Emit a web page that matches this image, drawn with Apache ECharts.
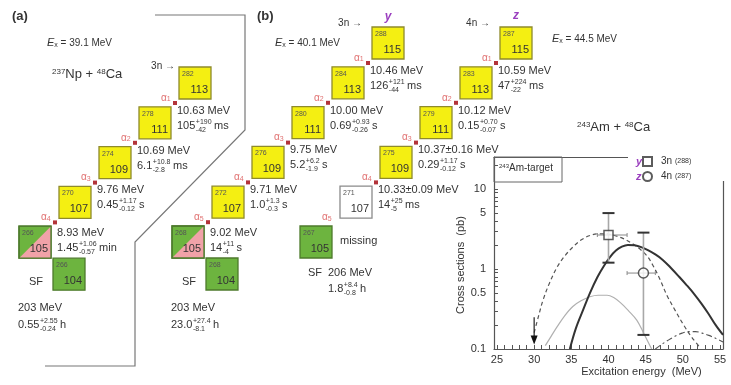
<!DOCTYPE html>
<html>
<head>
<meta charset="utf-8">
<script src="https://cdn.jsdelivr.net/npm/echarts@6/dist/echarts.min.js"></script>
<style>
  html, body { margin: 0; padding: 0; background: #fff; }
  #chart { width: 731px; height: 385px; }
</style>
</head>
<body>
<div id="chart"></div>
<script>
var FONT = '"Liberation Sans", Arial, sans-serif';

// (a) 237Np + 48Ca decay chain
var chainAMass = [282, 278, 274, 270, 266];
var chainAZ = [113, 111, 109, 107, 105];
var chainAEnergy = ['10.63 MeV', '10.69 MeV', '9.76 MeV', '8.93 MeV'];
var chainALife = [['105', '+190', '-42', 'ms'], ['6.1', '+10.8', '-2.8', 'ms'], ['0.45', '+1.17', '-0.12', 's'], ['1.45', '+1.06', '-0.57', 'min']];
var chainASf = [266, 104, '203 MeV'];
var chainASfLife = ['0.55', '+2.55', '-0.24', 'h'];

// (b) chain y (3n, 288 115)
var chainYMass = [288, 284, 280, 276, 272, 268];
var chainYZ = [115, 113, 111, 109, 107, 105];
var chainYEnergy = ['10.46 MeV', '10.00 MeV', '9.75 MeV', '9.71 MeV', '9.02 MeV'];
var chainYLife = [['126', '+121', '-44', 'ms'], ['0.69', '+0.93', '-0.26', 's'], ['5.2', '+6.2', '-1.9', 's'], ['1.0', '+1.3', '-0.3', 's'], ['14', '+11', '-4', 's']];
var chainYSf = [268, 104, '203 MeV'];
var chainYSfLife = ['23.0', '+27.4', '-8.1', 'h'];

// (b) chain z (4n, 287 115)
var chainZMass = [287, 283, 279, 275, 271, 267];
var chainZZ = [115, 113, 111, 109, 107, 105];
var chainZEnergy = ['10.59 MeV', '10.12 MeV', '10.37\u00b10.16 MeV', '10.33\u00b10.09 MeV'];
var chainZLife = [['47', '+224', '-22', 'ms'], ['0.15', '+0.70', '-0.07', 's'], ['0.29', '+1.17', '-0.12', 's'], ['14', '+25', '-5', 'ms']];
var chainZSf = ['206 MeV'];
var chainZSfLife = ['1.8', '+8.4', '-0.8', 'h'];

// excitation functions (MeV, pb)
var e3n = [30.0, 30.6, 31.2, 32.1, 33.1, 34.1, 35.2, 36.3, 37.4, 38.5, 39.6, 40.8, 42.0, 43.2, 44.3, 45.2, 46.0, 46.9, 47.9, 49.0, 50.1, 51.2, 52.3];
var s3n = [0.16, 0.26, 0.41, 0.68, 1.06, 1.45, 1.88, 2.3, 2.6, 2.75, 2.75, 2.62, 2.4, 2.08, 1.75, 1.45, 1.1, 0.75, 0.46, 0.3, 0.2, 0.14, 0.105];
var e4n = [34.8, 35.6, 36.6, 37.5, 38.5, 39.4, 40.2, 41.0, 41.8, 42.6, 43.5, 44.4, 45.3, 46.3, 47.3, 48.4, 49.5, 50.5, 51.5, 52.5, 53.4, 54.4, 55.4];
var s4n = [0.1, 0.18, 0.31, 0.5, 0.79, 1.1, 1.41, 1.7, 1.9, 2.0, 1.98, 1.88, 1.72, 1.52, 1.3, 1.03, 0.8, 0.63, 0.49, 0.37, 0.28, 0.2, 0.15];
var e2n = [31.5, 32.3, 33.1, 34.1, 35.2, 36.3, 37.5, 38.6, 39.8, 40.7, 41.6, 42.7, 43.8, 44.7, 45.8];
var s2n = [0.11, 0.145, 0.19, 0.26, 0.34, 0.4, 0.45, 0.47, 0.47, 0.44, 0.38, 0.3, 0.23, 0.16, 0.1];
var e5n = [46.3, 47.2, 48.1, 49.0, 49.9, 50.8, 51.7, 52.6, 53.5, 54.4, 55.4];
var s5n = [0.1, 0.115, 0.13, 0.145, 0.158, 0.165, 0.165, 0.158, 0.148, 0.136, 0.122];

var curveLabels = ['3n', '4n', '2n', '5n'];
var curveLabelE = [37.8, 48.7, 37.9, 48.7];
var curveLabelS = [3.55, 1.19, 0.345, 0.21];

// measured points: 3n (288), 4n (287)
var ptName = ['3n', '4n'];
var ptEnergy = [40.0, 44.7];
var ptSigma = [2.66, 0.89];
var ptSigmaLo = [1.2, 0.15];
var ptSigmaHi = [5.0, 2.85];
var ptEnergyLo = [38.5, 42.5];
var ptEnergyHi = [42.5, 46.3];
var thresholdE = 30;
var thresholdS = [0.25, 0.13];

var xLabels = [25, 30, 35, 40, 45, 50, 55];
var xTicks = [];
for (var t = 25; t <= 55; t++) xTicks.push(t);
var yLabels = [0.1, 0.5, 1, 5, 10];
var yTicks = [0.1, 0.2, 0.3, 0.4, 0.5, 0.6, 0.7, 0.8, 0.9, 1, 2, 3, 4, 5, 6, 7, 8, 9, 10, 20];

var lg = Math.log10;

// ---------- decay chain drawing ----------
var els = [];
var B = 32, DX = -40, DY = 39.8;
var YEL = '#f4ef12', YEL_B = '#8e8a2c', GRN = '#6db43f', GRN_B = '#4d7a2c', PNK = '#f1a2a8';
var mctx = document.createElement('canvas').getContext('2d');
function tw(s, size) { mctx.font = size + 'px ' + FONT; return mctx.measureText(s).width; }

function txt(x, y, s, size, opt) {
  opt = opt || {};
  els.push({
    type: 'text', x: x, y: y, z: 40,
    style: {
      text: String(s), fontSize: size, fontFamily: FONT,
      fontWeight: opt.bold ? 'bold' : 'normal', fontStyle: opt.italic ? 'italic' : 'normal',
      fill: opt.color || '#333', align: opt.align || 'left', textAlign: opt.align || 'left',
      verticalAlign: 'middle', textVerticalAlign: 'middle', rich: opt.rich
    }
  });
}
function life(x, y, p) {
  var w0 = tw(p[0], 11), w1 = Math.max(tw(p[1], 7), tw(p[2], 7));
  txt(x, y, p[0], 11);
  txt(x + w0 + 0.5, y - 4, p[1], 7);
  txt(x + w0 + 0.5, y + 4, p[2], 7);
  txt(x + w0 + w1 + 3, y, p[3], 11);
}
function box(x, y, mass, z, kind) {
  var fill = kind === 'y' ? YEL : kind === 'w' ? '#fff' : GRN;
  var stroke = kind === 'y' ? YEL_B : kind === 'w' ? '#8a8a8a' : GRN_B;
  els.push({ type: 'rect', z: 10, shape: { x: x, y: y, width: B, height: B }, style: { fill: fill, stroke: stroke, lineWidth: 1.3 } });
  if (kind === 's') {
    els.push({ type: 'polygon', z: 11, shape: { points: [[x + B, y], [x + B, y + B], [x, y + B]] }, style: { fill: PNK } });
    els.push({ type: 'rect', z: 12, shape: { x: x, y: y, width: B, height: B }, style: { fill: 'none', stroke: GRN_B, lineWidth: 1.3 } });
  }
  txt(x + 3, y + 7, mass, 7, { color: '#555' });
  txt(x + B - 3, y + B - 9, z, 11, { align: 'right' });
}
function alpha(x, y, n) {
  els.push({
    type: 'text', x: x, y: y, z: 40,
    style: {
      text: '{a|\u03b1}{n|' + n + '}', fontFamily: FONT, fontSize: 10, fill: '#e07070',
      rich: { a: { fontSize: 10, fontFamily: FONT, fill: '#e07070', color: '#e07070' },
              n: { fontSize: 7, fontFamily: FONT, fill: '#e07070', color: '#e07070', verticalAlign: 'bottom' } },
      verticalAlign: 'middle', textVerticalAlign: 'middle'
    }
  });
}
function chain(x0, y0, mass, zs, energy, lives, kinds, dots) {
  var pos = mass.map(function (m, i) { return [x0 + DX * i, y0 + DY * i]; });
  mass.forEach(function (m, i) { box(pos[i][0], pos[i][1], m, zs[i], kinds[i]); });
  for (var i = 1; i < mass.length; i++) {
    var up = pos[i - 1], lo = pos[i];
    var dx = up[0] - 4, dy = up[1] + B + 4;
    if (i <= dots) els.push({ type: 'rect', z: 30, shape: { x: dx - 2, y: dy - 2, width: 4, height: 4 }, style: { fill: '#b3343a' } });
    alpha(dx - 14, dy - 5, i);
    if (energy[i - 1]) {
      var off = zs[i] === 105 ? 3 : 0;
      txt(lo[0] + B + 6, lo[1] + 4 + off, energy[i - 1], 11);
      life(lo[0] + B + 6, lo[1] + 19 + off, lives[i - 1]);
    }
  }
  return pos;
}
function sfDaughter(last, sf, sfLife) {
  var bx = last[0] + 34, by = last[1] + 32;
  box(bx, by, sf[0], sf[1], 'g');
  txt(bx - 24, by + 24, 'SF', 11);
  txt(last[0] - 1, by + 50, sf[2], 11);
  life(last[0] - 1, by + 67, sfLife);
}

// panel (a)
txt(12, 16, '(a)', 13, { bold: true });
els.push({ type: 'polyline', z: 5, shape: { points: [[155, 15], [245, 15], [245, 130], [135, 242], [135, 366], [45, 366]] }, style: { fill: 'none', stroke: '#777', lineWidth: 1.2 } });
txt(47, 43, '{e|E}{x|x} = 39.1 MeV', 10, { rich: { e: { fontStyle: 'italic', fontSize: 11, fontFamily: FONT, fill: '#333' }, x: { fontSize: 7, fontFamily: FONT, fill: '#333', verticalAlign: 'bottom' } } });
txt(52, 74, '{s|237}Np + {s|48}Ca', 13, { rich: { s: { fontSize: 8, fontFamily: FONT, fill: '#333', verticalAlign: 'top' } } });
var posA = chain(179, 67, chainAMass, chainAZ, chainAEnergy, chainALife, ['y', 'y', 'y', 'y', 's'], 4);
txt(175, 66, '3n \u2192', 10, { align: 'right' });
sfDaughter(posA[4], chainASf, chainASfLife);

// panel (b)
txt(257, 16, '(b)', 13, { bold: true });
txt(275, 43, '{e|E}{x|x} = 40.1 MeV', 10, { rich: { e: { fontStyle: 'italic', fontSize: 11, fontFamily: FONT, fill: '#333' }, x: { fontSize: 7, fontFamily: FONT, fill: '#333', verticalAlign: 'bottom' } } });
var posY = chain(372, 27, chainYMass, chainYZ, chainYEnergy, chainYLife, ['y', 'y', 'y', 'y', 'y', 's'], 5);
txt(362, 23, '3n \u2192', 10, { align: 'right' });
txt(388, 17, 'y', 12, { italic: true, bold: true, color: '#9b3fbf', align: 'center' });
sfDaughter(posY[5], chainYSf, chainYSfLife);

var posZ = chain(500, 27, chainZMass, chainZZ, chainZEnergy, chainZLife, ['y', 'y', 'y', 'y', 'w', 'g'], 4);
txt(490, 23, '4n \u2192', 10, { align: 'right' });
txt(516, 16, 'z', 12, { italic: true, bold: true, color: '#9b3fbf', align: 'center' });
txt(552, 39, '{e|E}{x|x} = 44.5 MeV', 10, { rich: { e: { fontStyle: 'italic', fontSize: 11, fontFamily: FONT, fill: '#333' }, x: { fontSize: 7, fontFamily: FONT, fill: '#333', verticalAlign: 'bottom' } } });
var bz = posZ[5];
txt(bz[0] + 40, bz[1] + 15, 'missing', 11);
txt(bz[0] + 8, bz[1] + 47, 'SF', 11);
txt(bz[0] + 28, bz[1] + 47, chainZSf[0], 11);
life(bz[0] + 28, bz[1] + 63, chainZSfLife);

txt(577, 127, '{s|243}Am + {s|48}Ca', 13, { rich: { s: { fontSize: 8, fontFamily: FONT, fill: '#333', verticalAlign: 'top' } } });

// plot decorations
els.push({ type: 'rect', z: 25, shape: { x: 628, y: 148, width: 103, height: 33 }, style: { fill: '#fff' } });
txt(636, 162, 'y', 11, { italic: true, bold: true, color: '#9b3fbf' });
txt(636, 177, 'z', 11, { italic: true, bold: true, color: '#9b3fbf' });
els.push({ type: 'rect', z: 20, shape: { x: 494, y: 157, width: 68, height: 25 }, style: { fill: 'none', stroke: '#666', lineWidth: 1 } });
txt(499, 168, '{s|243}Am-target', 10, { rich: { s: { fontSize: 6, fontFamily: FONT, fill: '#333', verticalAlign: 'top' } } });

// ---------- series ----------
function curve(name, es, ss, color, width, dash) {
  return {
    type: 'line', name: name, smooth: 0.35, showSymbol: false, silent: true, z: 2,
    data: es.map(function (e, i) { return [e, lg(ss[i])]; }),
    lineStyle: { color: color, width: width, type: dash }
  };
}

var axisColor = '#555';
var option = {
  animation: false,
  backgroundColor: '#fff',
  textStyle: { fontFamily: FONT },
  grid: { left: 494, top: 157, width: 229, height: 192, outerBoundsMode: 'none' },
  legend: {
    data: ['3n', '4n'], orient: 'vertical', left: 642, top: 156, z: 30,
    itemWidth: 9, itemHeight: 9, itemGap: 4, padding: 0,
    formatter: function (n) { return n + ' {s|' + (n === '3n' ? '(288)' : '(287)') + '}'; },
    textStyle: { fontSize: 10, color: '#333', fontFamily: FONT, padding: [0, 0, 0, 4],
      rich: { s: { fontSize: 7, color: '#333', fontFamily: FONT } } }
  },
  xAxis: [{
    type: 'value', min: 24.6, max: 55.4, position: 'bottom',
    name: 'Excitation energy  (MeV)', nameLocation: 'middle', nameGap: 17,
    nameTextStyle: { fontSize: 11, color: '#333', padding: [0, 0, 0, 66] },
    axisLine: { onZero: false, lineStyle: { color: axisColor, width: 1.2 } },
    axisTick: { inside: true, length: 4, customValues: xTicks, lineStyle: { color: axisColor } },
    axisLabel: { customValues: xLabels, fontSize: 11, color: '#333', margin: 5 },
    splitLine: { show: false }
  }, {
    type: 'value', min: 24.6, max: 55.4, position: 'top',
    axisLine: { onZero: false, lineStyle: { color: axisColor, width: 1.2 } },
    axisTick: { show: false }, axisLabel: { show: false }, splitLine: { show: false }
  }],
  yAxis: [{
    type: 'value', min: -1, max: 1.4, position: 'left',
    name: 'Cross sections  (pb)', nameLocation: 'middle', nameRotate: 90, nameGap: 25,
    nameTextStyle: { fontSize: 11, color: '#333', padding: [0, 24, 0, 0] },
    axisLine: { onZero: false, lineStyle: { color: axisColor, width: 1.2 } },
    axisTick: { inside: true, length: 4, customValues: yTicks.map(lg), lineStyle: { color: axisColor } },
    axisLabel: {
      customValues: yLabels.map(lg), fontSize: 11, color: '#333', margin: 8,
      formatter: function (v) { return String(Number(Math.pow(10, v).toPrecision(2))); }
    },
    splitLine: { show: false }
  }, {
    type: 'value', min: -1, max: 1.4, position: 'right',
    axisLine: { onZero: false, lineStyle: { color: axisColor, width: 1.2 } },
    axisTick: { show: false }, axisLabel: { show: false }, splitLine: { show: false }
  }],
  series: [
    curve('calc 2n', e2n, s2n, '#b0b0b0', 1.2, 'solid'),
    curve('calc 5n', e5n, s5n, '#555', 1.1, [6, 3, 2, 3]),
    curve('calc 3n', e3n, s3n, '#555', 1.2, [4, 3]),
    curve('calc 4n', e4n, s4n, '#333', 2, 'solid'),
    {
      type: 'line', name: 'threshold', silent: true, z: 3,
      data: [{ value: [thresholdE, lg(thresholdS[0])], symbol: 'none' },
             { value: [thresholdE, lg(thresholdS[1])], symbol: 'triangle', symbolSize: [7, 9], symbolRotate: 180 }],
      lineStyle: { color: '#222', width: 1.2 }, itemStyle: { color: '#111' }
    },
    {
      type: 'custom', name: 'errors', silent: true, z: 4,
      data: ptEnergy.map(function (e, i) { return [e, lg(ptSigma[i]), lg(ptSigmaLo[i]), lg(ptSigmaHi[i]), ptEnergyLo[i], ptEnergyHi[i]]; }),
      renderItem: function (params, api) {
        var c = api.coord([api.value(0), api.value(1)]);
        var lo = api.coord([api.value(0), api.value(2)]);
        var hi = api.coord([api.value(0), api.value(3)]);
        var l = api.coord([api.value(4), api.value(1)]);
        var r = api.coord([api.value(5), api.value(1)]);
        return {
          type: 'group', children: [
            { type: 'line', shape: { x1: c[0], y1: hi[1], x2: c[0], y2: lo[1] }, style: { stroke: '#a8a8a8', lineWidth: 1.6 } },
            { type: 'line', shape: { x1: c[0] - 6, y1: hi[1], x2: c[0] + 6, y2: hi[1] }, style: { stroke: '#333', lineWidth: 2 } },
            { type: 'line', shape: { x1: c[0] - 6, y1: lo[1], x2: c[0] + 6, y2: lo[1] }, style: { stroke: '#333', lineWidth: 2 } },
            { type: 'line', shape: { x1: l[0], y1: c[1], x2: r[0], y2: c[1] }, style: { stroke: '#888', lineWidth: 1 } },
            { type: 'line', shape: { x1: l[0], y1: c[1] - 2, x2: l[0], y2: c[1] + 2 }, style: { stroke: '#888', lineWidth: 1 } },
            { type: 'line', shape: { x1: r[0], y1: c[1] - 2, x2: r[0], y2: c[1] + 2 }, style: { stroke: '#888', lineWidth: 1 } }
          ]
        };
      }
    },
    {
      type: 'scatter', name: ptName[0], z: 5, symbol: 'rect', symbolSize: 9,
      data: [[ptEnergy[0], lg(ptSigma[0])]],
      itemStyle: { color: '#fff', borderColor: '#333', borderWidth: 1.5 }
    },
    {
      type: 'scatter', name: ptName[1], z: 5, symbol: 'circle', symbolSize: 10,
      data: [[ptEnergy[1], lg(ptSigma[1])]],
      itemStyle: { color: '#fff', borderColor: '#333', borderWidth: 1.5 }
    },
    {
      type: 'scatter', name: 'curve labels', silent: true, z: 6, symbolSize: 1,
      itemStyle: { opacity: 0 },
      data: curveLabels.map(function (n, i) { return { name: n, value: [curveLabelE[i], lg(curveLabelS[i])] }; }),
      label: { show: true, position: 'inside', formatter: '{b}', fontSize: 10, color: '#444', fontFamily: FONT }
    }
  ],
  graphic: { elements: els }
};

var chart = echarts.init(document.getElementById('chart'));
chart.setOption(option);
</script>
</body>
</html>
